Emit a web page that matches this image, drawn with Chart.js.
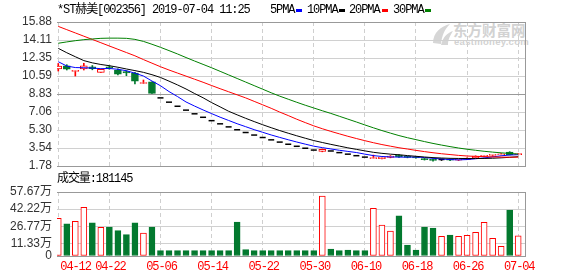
<!DOCTYPE html>
<html><head><meta charset="utf-8">
<script src="https://cdn.jsdelivr.net/npm/chart.js@4.4.1/dist/chart.umd.min.js"></script>
<style>
html,body{margin:0;padding:0;background:#fff;}
#wrap{position:relative;width:578px;height:276px;overflow:hidden;background:#fff;}
canvas{position:absolute;left:0;top:0;width:578px;height:276px;}
.t{position:absolute;font-family:"Liberation Mono","Noto Sans CJK SC",monospace;font-size:12px;letter-spacing:-1.1px;color:#000;white-space:pre;line-height:12px;}
.sq{position:absolute;width:6px;height:3px;top:9px;}
.wm{position:absolute;color:#d2d2d2;font-weight:bold;white-space:pre;}
</style></head>
<body><div id="wrap">
<svg style="position:absolute;left:430px;top:22px" width="24" height="24"><path d="M3 21 C3 11 11 4 20 2 C14 8 12 14 11 22 Z" fill="#d6d6d6"/><path d="M11 23 C13 15 17 11 23 9 C19 15 18 19 18 23 Z" fill="#d6d6d6"/></svg>
<div class="wm" style="left:453px;top:21px;font-family:'Noto Sans CJK SC';font-size:14.5px;line-height:17px;">东方财富网</div>
<div class="wm" style="left:454px;top:37px;font-family:'Liberation Sans';font-size:9.5px;line-height:10px;letter-spacing:0.3px;">eastmoney.com</div>
<canvas id="pc" width="578" height="276"></canvas>
<canvas id="vc" width="578" height="276"></canvas>
<div class="t" style="left:57px;top:4px">*ST赫美[002356] 2019-07-04 11:25</div>
<div class="t" style="left:270px;top:4px">5PMA</div><div class="sq" style="left:296px;background:#0000ff"></div>
<div class="t" style="left:307px;top:4px">10PMA</div><div class="sq" style="left:339px;background:#000"></div>
<div class="t" style="left:349px;top:4px">20PMA</div><div class="sq" style="left:382px;background:#ff0000"></div>
<div class="t" style="left:393px;top:4px">30PMA</div><div class="sq" style="left:425px;background:#008000"></div>
<div class="t" style="left:57px;top:173px">成交量:181145</div>
</div>
<script>
const days = ['04-12','04-15','04-16','04-17','04-18','04-19','04-22','04-23','04-24','04-25','04-26','04-29',
'05-06','05-07','05-08','05-09','05-10','05-13','05-14','05-15','05-16','05-17','05-20','05-21','05-22','05-23','05-24','05-27','05-28','05-29','05-30','05-31',
'06-03','06-04','06-05','06-06','06-10','06-11','06-12','06-13','06-14','06-17','06-18','06-19','06-20','06-21','06-24','06-25','06-26','06-27','06-28',
'07-01','07-02','07-03','07-04'];
const xTickLabels = ['04-12','04-22','05-06','05-14','05-22','05-30','06-10','06-18','06-26','07-04'];
const priceTicks = [1.78,3.54,5.30,7.06,8.83,10.59,12.35,14.11,15.88];
const volTicks = [0,11.33,26.77,42.22,57.67];

const opens  = [11.28,11.60,11.05,11.28,11.50,10.95,11.50,11.18,11.02,10.87,9.86,10.03,
8.45,8.03,7.63,7.25,6.89,6.55,6.22,5.91,5.61,5.33,5.06,4.81,4.57,4.34,4.12,3.91,3.71,3.52,3.34,
3.20,3.25,3.09,2.94,2.79,2.65,2.50,2.50,2.62,2.85,2.70,2.62,2.47,2.40,2.42,2.42,2.34,2.42,2.60,2.72,2.82,2.88,3.15,2.90];
const closes = [11.57,11.25,11.13,11.60,11.31,11.25,11.35,10.76,10.89,10.09,9.88,8.89,
8.45,8.03,7.63,7.25,6.89,6.55,6.22,5.91,5.61,5.33,5.06,4.81,4.57,4.34,4.12,3.91,3.71,3.52,3.34,
3.42,3.25,3.09,2.94,2.79,2.65,2.53,2.64,2.75,2.70,2.62,2.58,2.40,2.33,2.42,2.34,2.42,2.55,2.75,2.78,2.86,2.96,2.90,2.96];
const highs  = [11.82,11.70,11.15,11.84,11.62,11.25,11.60,11.30,11.11,10.95,10.20,10.03,
8.45,8.03,7.63,7.25,6.89,6.55,6.22,5.91,5.61,5.33,5.06,4.81,4.57,4.34,4.12,3.91,3.71,3.52,3.34,
3.45,3.25,3.09,2.94,2.79,2.65,2.85,2.66,2.80,2.90,2.74,2.65,2.52,2.45,2.46,2.45,2.46,2.58,2.78,2.82,2.88,3.00,3.18,3.00];
const lows   = [11.08,11.18,10.59,11.18,11.20,10.95,11.25,10.70,10.62,9.81,9.86,8.89,
8.45,8.03,7.63,7.25,6.89,6.55,6.22,5.91,5.61,5.33,5.06,4.81,4.57,4.34,4.12,3.91,3.71,3.52,3.34,
3.17,3.25,3.09,2.94,2.79,2.65,2.50,2.48,2.58,2.62,2.58,2.55,2.36,2.25,2.32,2.30,2.32,2.40,2.58,2.68,2.72,2.86,2.86,2.88];
const volumes = [34.0,29.1,31.3,43.9,30.0,25.9,26.1,22.8,19.2,30.0,20.7,26.1,
4.8,4.8,4.8,4.8,4.8,4.8,4.8,4.8,4.8,30.6,5.7,4.8,4.8,4.8,4.8,4.8,4.8,4.8,4.8,
54.1,6.3,4.8,5.4,4.8,4.8,43.0,27.9,22.5,36.3,9.9,5.4,26.1,25.2,17.7,18.9,17.7,18.6,21.4,30.4,15.9,8.7,41.4,18.11];
const ma5  = [11.99,11.57,11.42,11.40,11.37,11.31,11.33,11.25,11.11,10.87,10.59,10.10,9.64,9.07,8.58,8.05,7.65,7.27,6.91,6.56,6.24,5.92,5.63,5.34,5.08,4.82,4.58,4.35,4.13,3.92,3.72,3.58,3.45,3.32,3.21,3.10,2.94,2.80,2.71,2.67,2.65,2.65,2.66,2.61,2.53,2.47,2.41,2.38,2.41,2.49,2.57,2.67,2.78,2.85,2.89];
const ma10 = [13.30,12.87,12.48,12.10,11.88,11.72,11.60,11.45,11.28,11.12,10.95,10.72,10.45,10.09,9.72,9.32,8.88,8.46,7.99,7.57,7.14,6.79,6.45,6.13,5.82,5.53,5.25,4.99,4.74,4.50,4.27,4.08,3.90,3.73,3.56,3.41,3.26,3.12,3.02,2.94,2.88,2.80,2.73,2.66,2.60,2.56,2.53,2.52,2.51,2.51,2.52,2.54,2.58,2.63,2.69];
const ma20 = [15.45,15.13,14.81,14.49,14.17,13.85,13.53,13.21,12.89,12.57,12.20,11.85,11.50,11.18,10.88,10.58,10.28,9.98,9.66,9.35,9.05,8.75,8.45,8.11,7.77,7.43,7.06,6.72,6.36,6.03,5.71,5.43,5.17,4.93,4.69,4.47,4.26,4.06,3.88,3.72,3.57,3.44,3.31,3.19,3.08,2.98,2.90,2.82,2.76,2.72,2.70,2.67,2.65,2.64,2.65];
const ma30 = [13.80,13.93,14.05,14.15,14.22,14.28,14.30,14.30,14.28,14.18,13.98,13.70,13.40,13.08,12.75,12.40,12.06,11.73,11.40,11.05,10.70,10.35,10.00,9.65,9.30,8.95,8.62,8.32,8.02,7.73,7.46,7.19,6.93,6.65,6.37,6.09,5.80,5.52,5.25,5.00,4.76,4.55,4.36,4.17,3.99,3.83,3.68,3.54,3.42,3.32,3.22,3.14,3.07,3.01,2.95];

const RED = '#ff0000', GREEN = '#03792f', BLACK = '#000000';
const xTickIdx = xTickLabels.map(d => days.indexOf(d));
const idx = days.map((_, i) => i);
function candleColor(i){ return closes[i] > opens[i] ? RED : (closes[i] < opens[i] ? GREEN : BLACK); }
function volUp(i){
  if (closes[i] !== opens[i]) return closes[i] > opens[i];
  return i > 0 ? closes[i] >= closes[i-1] : true;
}
const X_MIN = -0.15, X_MAX = 54.8;
const FONT_AX = {family: '"Liberation Sans","Noto Sans CJK SC",sans-serif', size: 12};

function xScale(){
  return {
    type: 'linear', min: X_MIN, max: X_MAX, offset: false,
    afterBuildTicks: s => { s.ticks = xTickIdx.map(v => ({value: v})); },
    afterFit: s => { s.height = 0; },
    ticks: {display: false},
    grid: {color: '#cfcfcf', lineWidth: 1, drawTicks: false, offset: false},
    border: {display: false, dash: [4, 3]}
  };
}
const framePlugin = {
  id: 'frame',
  beforeDatasetsDraw(chart){
    const a = chart.chartArea, c = chart.ctx;
    c.save(); c.strokeStyle = '#999'; c.lineWidth = 1;
    c.beginPath(); c.moveTo(Math.round(a.right) + 0.5, a.top); c.lineTo(Math.round(a.right) + 0.5, a.bottom + 1); c.stroke();
    c.restore();
  }
};

// ---- price chart ----
const wickData = idx.filter(i => highs[i] > lows[i]).map(i => ({x: i, y: [lows[i], highs[i]]}));
const bodyData = idx.filter(i => opens[i] !== closes[i]).map(i => ({x: i, y: [opens[i], closes[i]]}));
const flatData = idx.filter(i => opens[i] === closes[i]).map(i => ({x: i, y: closes[i]}));
const maSet = (arr, color) => ({
  type: 'line', data: idx.map(i => ({x: i, y: arr[i]})), borderColor: color, borderWidth: 1,
  pointRadius: 0, tension: 0, fill: false, order: 1
});

new Chart(document.getElementById('pc'), {
  type: 'bar',
  data: {datasets: [
    {type: 'bar', data: wickData, grouped: false, barThickness: 1, order: 10,
     backgroundColor: c => candleColor(c.raw.x), borderWidth: 0},
    {type: 'bar', data: bodyData, grouped: false, barThickness: 7, order: 9, minBarLength: 1,
     backgroundColor: c => closes[c.raw.x] > opens[c.raw.x] ? '#ffffff' : GREEN,
     borderColor: c => candleColor(c.raw.x), borderWidth: 1, borderSkipped: false},
    {type: 'scatter', data: flatData, order: 8, pointStyle: 'line', pointRadius: 3, pointHoverRadius: 3,
     borderColor: BLACK, borderWidth: 1.5, showLine: false},
    maSet(ma30, '#008000'), maSet(ma20, '#ff0000'), maSet(ma10, '#000000'), maSet(ma5, '#0000ff')
  ]},
  options: {
    responsive: false, animation: false, devicePixelRatio: 1, events: [],
    layout: {padding: {left: 0, right: 53, top: 22, bottom: 110}},
    plugins: {legend: {display: false}, tooltip: {enabled: false}},
    scales: {
      x: xScale(),
      y: {
        type: 'linear', min: 1.78, max: 15.88,
        afterBuildTicks: s => { s.ticks = priceTicks.map(v => ({value: v})); },
        afterFit: s => { s.width = 57; },
        ticks: {autoSkip: false, padding: 5, color: '#333', font: FONT_AX, callback: v => v.toFixed(2)},
        grid: {drawTicks: false, color: c => [1.78, 8.83, 15.88].includes(c.tick.value) ? '#999' : '#d0d0d0'},
        border: {display: false}
      }
    }
  },
  plugins: [framePlugin]
});

// ---- volume chart ----
const volData = idx.map(i => ({x: i, y: volumes[i]}));
const xLabelPlugin = {
  id: 'xlabels',
  afterDraw(chart){
    const s = chart.scales.x, c = chart.ctx;
    c.save();
    c.font = '12px "Liberation Mono", monospace';
    try { c.letterSpacing = '-1.1px'; } catch(e) {}
    c.fillStyle = '#ff0000'; c.textBaseline = 'middle';
    xTickIdx.forEach((v, k) => {
      const px = s.getPixelForValue(v);
      if (k === 0) { c.textAlign = 'left'; c.fillText(days[v], px + 2, 267); }
      else { c.textAlign = 'center'; c.fillText(days[v], px + 1, 267); }
    });
    c.restore();
  }
};
new Chart(document.getElementById('vc'), {
  type: 'bar',
  data: {datasets: [
    {type: 'bar', data: volData, grouped: false, barThickness: 6,
     backgroundColor: c => volUp(c.raw.x) ? '#ffffff' : GREEN,
     borderColor: c => volUp(c.raw.x) ? RED : GREEN, borderWidth: 1, borderSkipped: false}
  ]},
  options: {
    responsive: false, animation: false, devicePixelRatio: 1, events: [],
    layout: {padding: {left: 0, right: 53, top: 192, bottom: 20}},
    plugins: {legend: {display: false}, tooltip: {enabled: false}},
    scales: {
      x: xScale(),
      y: {
        type: 'linear', min: 0, max: 57.67,
        afterBuildTicks: s => { s.ticks = volTicks.map(v => ({value: v})); },
        afterFit: s => { s.width = 57; },
        ticks: {autoSkip: false, padding: 5, color: '#333', font: FONT_AX,
                callback: v => v === 0 ? '0' : v.toFixed(2) + '万'},
        grid: {drawTicks: false, color: c => (c.tick.value === 0 || c.tick.value === 57.67) ? '#999' : '#d0d0d0'},
        border: {display: false}
      }
    }
  },
  plugins: [framePlugin, xLabelPlugin]
});
</script>
</body></html>
